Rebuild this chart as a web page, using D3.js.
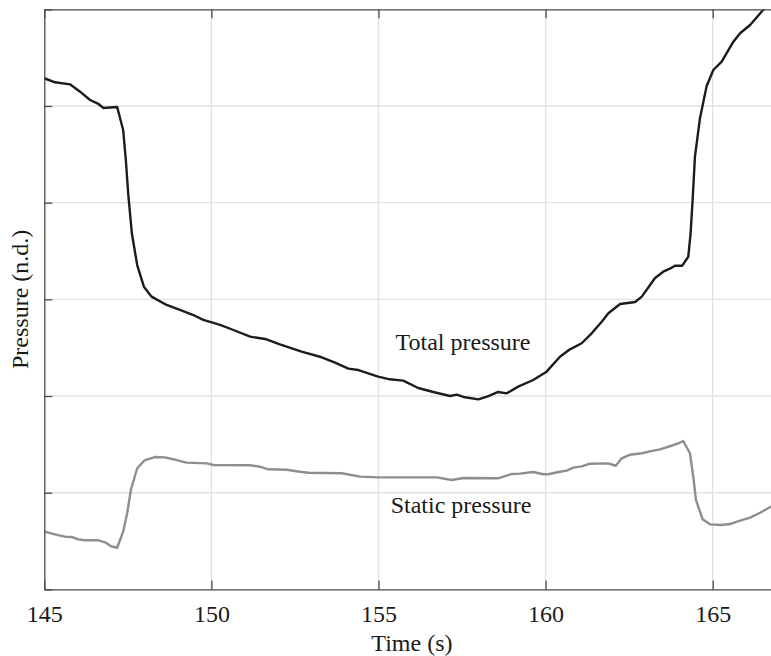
<!DOCTYPE html>
<html>
<head>
<meta charset="utf-8">
<script src="https://cdn.jsdelivr.net/npm/d3@7"></script>
<style>
  html, body { margin: 0; padding: 0; background: #fff; overflow: hidden; }
  svg { display: block; }
  text { font-family: "Liberation Serif", "Times New Roman", serif; fill: #1a1a1a; }
</style>
</head>
<body>
<svg id="chart" width="771" height="656"></svg>
<script>
// ---- data ----
const xTicks = [145, 150, 155, 160, 165];
const yTicks = [0, 1, 2, 3, 4, 5, 6];
const xLabel = "Time (s)";
const yLabel = "Pressure (n.d.)";
const totalLabel = "Total pressure";
const staticLabel = "Static pressure";

const totalTime = [145.00,145.32,145.77,146.07,146.37,146.62,146.77,147.18,147.36,147.44,147.51,147.62,147.78,147.98,148.21,148.66,149.06,149.46,149.76,150.26,150.66,151.16,151.65,152.05,152.70,153.30,153.70,154.10,154.40,154.99,155.34,155.74,156.19,156.64,157.14,157.34,157.59,157.99,158.29,158.58,158.84,159.18,159.63,160.03,160.43,160.73,161.08,161.38,161.68,161.88,162.23,162.68,162.88,163.27,163.52,163.72,163.87,164.09,164.27,164.34,164.40,164.47,164.62,164.82,165.02,165.27,165.62,165.82,166.12,166.51,166.80];
const totalValue = [5.287,5.245,5.224,5.148,5.062,5.021,4.979,4.990,4.752,4.441,4.097,3.683,3.355,3.131,3.028,2.942,2.890,2.838,2.787,2.735,2.683,2.614,2.587,2.535,2.459,2.401,2.345,2.283,2.269,2.200,2.173,2.159,2.083,2.042,2.000,2.014,1.987,1.966,2.000,2.042,2.028,2.097,2.166,2.252,2.407,2.483,2.546,2.649,2.769,2.856,2.952,2.973,3.028,3.218,3.286,3.317,3.348,3.348,3.441,3.683,4.028,4.476,4.873,5.207,5.372,5.458,5.665,5.752,5.838,5.993,6.200];

const staticTime = [145.00,145.32,145.62,145.82,146.02,146.22,146.62,146.82,147.00,147.18,147.36,147.48,147.59,147.78,148.01,148.31,148.61,148.96,149.26,149.86,150.06,151.16,151.45,151.70,152.25,152.65,152.90,153.35,153.90,154.45,154.99,156.74,157.19,157.54,158.58,158.99,159.23,159.63,159.93,160.08,160.43,160.63,160.83,161.08,161.33,161.88,162.10,162.28,162.53,162.88,163.12,163.42,163.77,163.97,164.12,164.32,164.42,164.50,164.70,164.92,165.27,165.52,165.82,166.12,166.42,166.71,166.90];
const staticValue = [0.597,0.570,0.545,0.542,0.518,0.508,0.508,0.487,0.446,0.431,0.597,0.787,1.028,1.253,1.338,1.369,1.366,1.338,1.311,1.304,1.287,1.284,1.269,1.242,1.238,1.217,1.207,1.204,1.201,1.166,1.159,1.159,1.132,1.152,1.149,1.194,1.197,1.214,1.191,1.191,1.217,1.228,1.259,1.273,1.300,1.304,1.279,1.356,1.393,1.408,1.428,1.449,1.486,1.511,1.535,1.408,1.166,0.925,0.725,0.673,0.666,0.676,0.711,0.742,0.793,0.849,0.885];

// ---- layout ----
const svg = d3.select("#chart");
const mLeft = 44.3, mRight = 779.5, mTop = 9.3, mBottom = 589.4;
const x = d3.scaleLinear().domain([145, 167]).range([mLeft, mRight]);
const y = d3.scaleLinear().domain([0, 6]).range([mBottom, mTop]);
const fontSize = 24;

svg.append("defs").append("clipPath").attr("id", "plotclip")
  .append("rect").attr("x", mLeft).attr("y", mTop).attr("width", mRight - mLeft).attr("height", mBottom - mTop);

// grid
const grid = svg.append("g");
grid.selectAll("line.vx").data(xTicks.filter(d => d > 145)).join("line")
  .attr("x1", d => x(d)).attr("x2", d => x(d)).attr("y1", mTop).attr("y2", mBottom)
  .attr("stroke", "#e2e2e2").attr("stroke-width", 1.4);
grid.selectAll("line.hy").data(yTicks.filter(d => d > 0 && d < 6)).join("line")
  .attr("x1", mLeft).attr("x2", mRight).attr("y1", d => y(d)).attr("y2", d => y(d))
  .attr("stroke", "#e2e2e2").attr("stroke-width", 1.4);

// lines
const lineGen = (xs, ys) => d3.line().x((d, i) => x(xs[i])).y((d, i) => y(ys[i]))(xs);
const plot = svg.append("g").attr("clip-path", "url(#plotclip)");
plot.append("path").attr("d", lineGen(staticTime, staticValue))
  .attr("fill", "none").attr("stroke", "#8e8e8e").attr("stroke-width", 2.4).attr("stroke-linejoin", "round");
plot.append("path").attr("d", lineGen(totalTime, totalValue))
  .attr("fill", "none").attr("stroke", "#1c1c1c").attr("stroke-width", 2.4).attr("stroke-linejoin", "round");

// axes
const axisColor = "#4a4a4a";
const xAxis = svg.append("g").attr("transform", `translate(0,${mBottom})`)
  .call(d3.axisBottom(x).tickValues(xTicks).tickSizeInner(-9).tickSizeOuter(0).tickPadding(16).tickFormat(d3.format("d")));
const xTop = svg.append("g").attr("transform", `translate(0,${mTop})`)
  .call(d3.axisTop(x).tickValues(xTicks).tickSizeInner(-9).tickSizeOuter(0).tickFormat(""));
const yAxis = svg.append("g").attr("transform", `translate(${mLeft},0)`)
  .call(d3.axisLeft(y).tickValues(yTicks).tickSizeInner(-8).tickSizeOuter(0).tickFormat(""));
[xAxis, xTop, yAxis].forEach(g => {
  g.select(".domain").attr("stroke", axisColor).attr("stroke-width", 1.3);
  g.selectAll(".tick line").attr("stroke", axisColor).attr("stroke-width", 1.3);
});
xAxis.selectAll(".tick text")
  .attr("font-family", "'Liberation Serif', 'Times New Roman', serif")
  .attr("font-size", fontSize).attr("fill", "#1a1a1a");

// axis labels
svg.append("text").attr("x", (mLeft + mRight) / 2).attr("y", 651)
  .attr("text-anchor", "middle").attr("font-size", fontSize).text(xLabel);
svg.append("text").attr("transform", `translate(28,${(mTop + mBottom) / 2}) rotate(-90)`)
  .attr("text-anchor", "middle").attr("font-size", fontSize).text(yLabel);

// series labels
svg.append("text").attr("x", x(157.53)).attr("y", 350)
  .attr("text-anchor", "middle").attr("font-size", fontSize).text(totalLabel);
svg.append("text").attr("x", x(157.47)).attr("y", 513)
  .attr("text-anchor", "middle").attr("font-size", fontSize).text(staticLabel);
</script>
</body>
</html>
